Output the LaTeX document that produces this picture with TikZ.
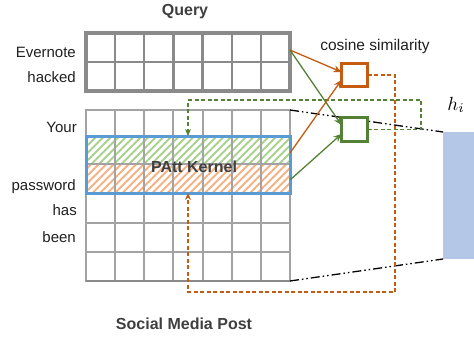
\documentclass[tikz,border=0pt]{standalone}
\usepackage{graphicx}
\usepackage{fontspec}
\setmainfont{Liberation Sans}
\usetikzlibrary{arrows.meta,patterns.meta,calc}
\definecolor{gridgray}{HTML}{8A8A8A}
\definecolor{gridlight}{HTML}{A3A3A3}
\definecolor{corange}{HTML}{C55A11}
\definecolor{cgreen}{HTML}{538135}
\definecolor{lgreen}{HTML}{A9D18E}
\definecolor{lorange}{HTML}{F4B183}
\definecolor{kblue}{HTML}{5B9BD5}
\definecolor{hblue}{HTML}{B4C7E7}
\definecolor{txt}{HTML}{1F1F1F}
\definecolor{ttl}{HTML}{3F3F3F}
\tikzset{
  lbl/.style={anchor=base east, font=\fontsize{15}{18}\selectfont, text=txt, inner sep=0},
  ttlstyle/.style={anchor=base, font=\fontsize{16}{19}\selectfont\bfseries, text=ttl, inner sep=0},
  boxarea/.style={inner sep=0, outer sep=0},
  simbox/.style={draw, line width=3pt, minimum width=26pt, minimum height=23.5pt, inner sep=0, outer sep=0, fill=white},
  conn/.style={line width=1.3pt, -{Stealth[length=8pt,width=7pt]}},
  dashconn/.style={line width=1.2pt, dash pattern=on 4pt off 2.5pt, -{Stealth[length=7pt,width=6pt]}},
  dashdot/.style={line width=1.3pt, dash pattern=on 9pt off 3pt on 1.5pt off 3pt on 1.5pt off 3pt},
}
\begin{document}
\begin{tikzpicture}[x=1pt,y=-1pt]
\useasboundingbox (0,0) rectangle (474,338);
% grid areas
\node[boxarea, minimum width=204pt, minimum height=58pt] (query) at (188,62) {};
\node[boxarea, minimum width=204pt, minimum height=171pt] (post) at (188,195.5) {};
\node[boxarea, minimum width=204pt, minimum height=57pt] (kernel) at (188,164.5) {};
% hatching
\fill[pattern={Lines[angle=45,distance=5.3pt,line width=2pt]}, pattern color=lgreen] (86,136) rectangle (290,164);
\fill[pattern={Lines[angle=45,distance=5.3pt,line width=2pt]}, pattern color=lorange] (86,164) rectangle (290,193);
% query grid
\draw[gridgray, line width=2.2pt] foreach \i in {1,...,6} {(86+\i*29.143,33) -- (86+\i*29.143,91)} (86,62) -- (290,62);
\draw[gridgray, line width=3.2pt] (query.north west) rectangle (query.south east);
% post grid
\draw[gridlight, line width=2pt] foreach \i in {1,...,6} {(86+\i*29.143,110) -- (86+\i*29.143,281)}
  foreach \y in {136,164,193,223,252} {(86,\y) -- (290,\y)};
\draw[gridlight, line width=2.4pt] (post.north west) rectangle (post.south east);
\draw[gridgray, line width=2.8pt] (post.south west) -- (post.south east);
% kernel border
\draw[kblue, line width=3pt] (kernel.north west) rectangle (kernel.south east);
\node[anchor=base, font=\fontsize{16}{19}\selectfont\bfseries, text=ttl, inner sep=0] (ktext) at (194,172) {PAtt Kernel};
% labels
\node[lbl] (w1) at (76,57) {Evernote};
\node[lbl] (w2) at (76,82) {hacked};
\node[lbl] (w3) at (77,132) {Your};
\node[lbl] (w4) at (76,190) {password};
\node[lbl] (w5) at (77,215) {has};
\node[lbl] (w6) at (76,242) {been};
\node[ttlstyle] (qt) at (185,15) {Query};
\node[ttlstyle] (pt) at (184,329) {Social Media Post};
\node[anchor=base, font=\fontsize{15.5}{18}\selectfont, text=txt, inner sep=0] (cs) at (375,50) {cosine similarity};
% h_i
\node[inner sep=0, outer sep=0, fill=hblue, minimum width=31pt, minimum height=127pt] (hrect) at (458.5,195.5) {};
\node[inner sep=0, anchor=base] (hl) at (456,110) {\scalebox{1.9}{$h_i$}};
% dash-dot projection lines
\draw[dashdot] (post.north east) -- (hrect.north west);
\draw[dashdot] (post.south east) -- (hrect.south west);
% dashed feedback
\coordinate (or1) at (395,292);
\coordinate (gr1) at (421,100);
% sim boxes
\node[simbox, draw=corange] (obox) at (354.5,75) {};
\node[simbox, draw=cgreen] (gbox) at (354.5,129.5) {};
\draw[dashconn, corange] (obox.east) -- (obox.east -| or1) -- (or1) -- (or1 -| kernel.south) -- (kernel.south);
\draw[dashconn, cgreen] (gbox.east) -- (gbox.east -| gr1) -- (gr1) -- (gr1 -| kernel.north) -- (kernel.north);
% connectors
\draw[conn, corange] ($(query.east)+(0,-12)$) -- ($(obox.west)+(0,-3)$);
\draw[conn, cgreen] ($(query.east)+(0,-12)$) -- ($(gbox.west)+(0,-4.5)$);
\draw[conn, corange] ($(kernel.east)+(0,-11.5)$) -- ($(obox.west)+(0,5)$);
\draw[conn, cgreen] ($(kernel.east)+(0,15.5)$) -- ($(gbox.west)+(0,4.5)$);
\end{tikzpicture}
\end{document}
